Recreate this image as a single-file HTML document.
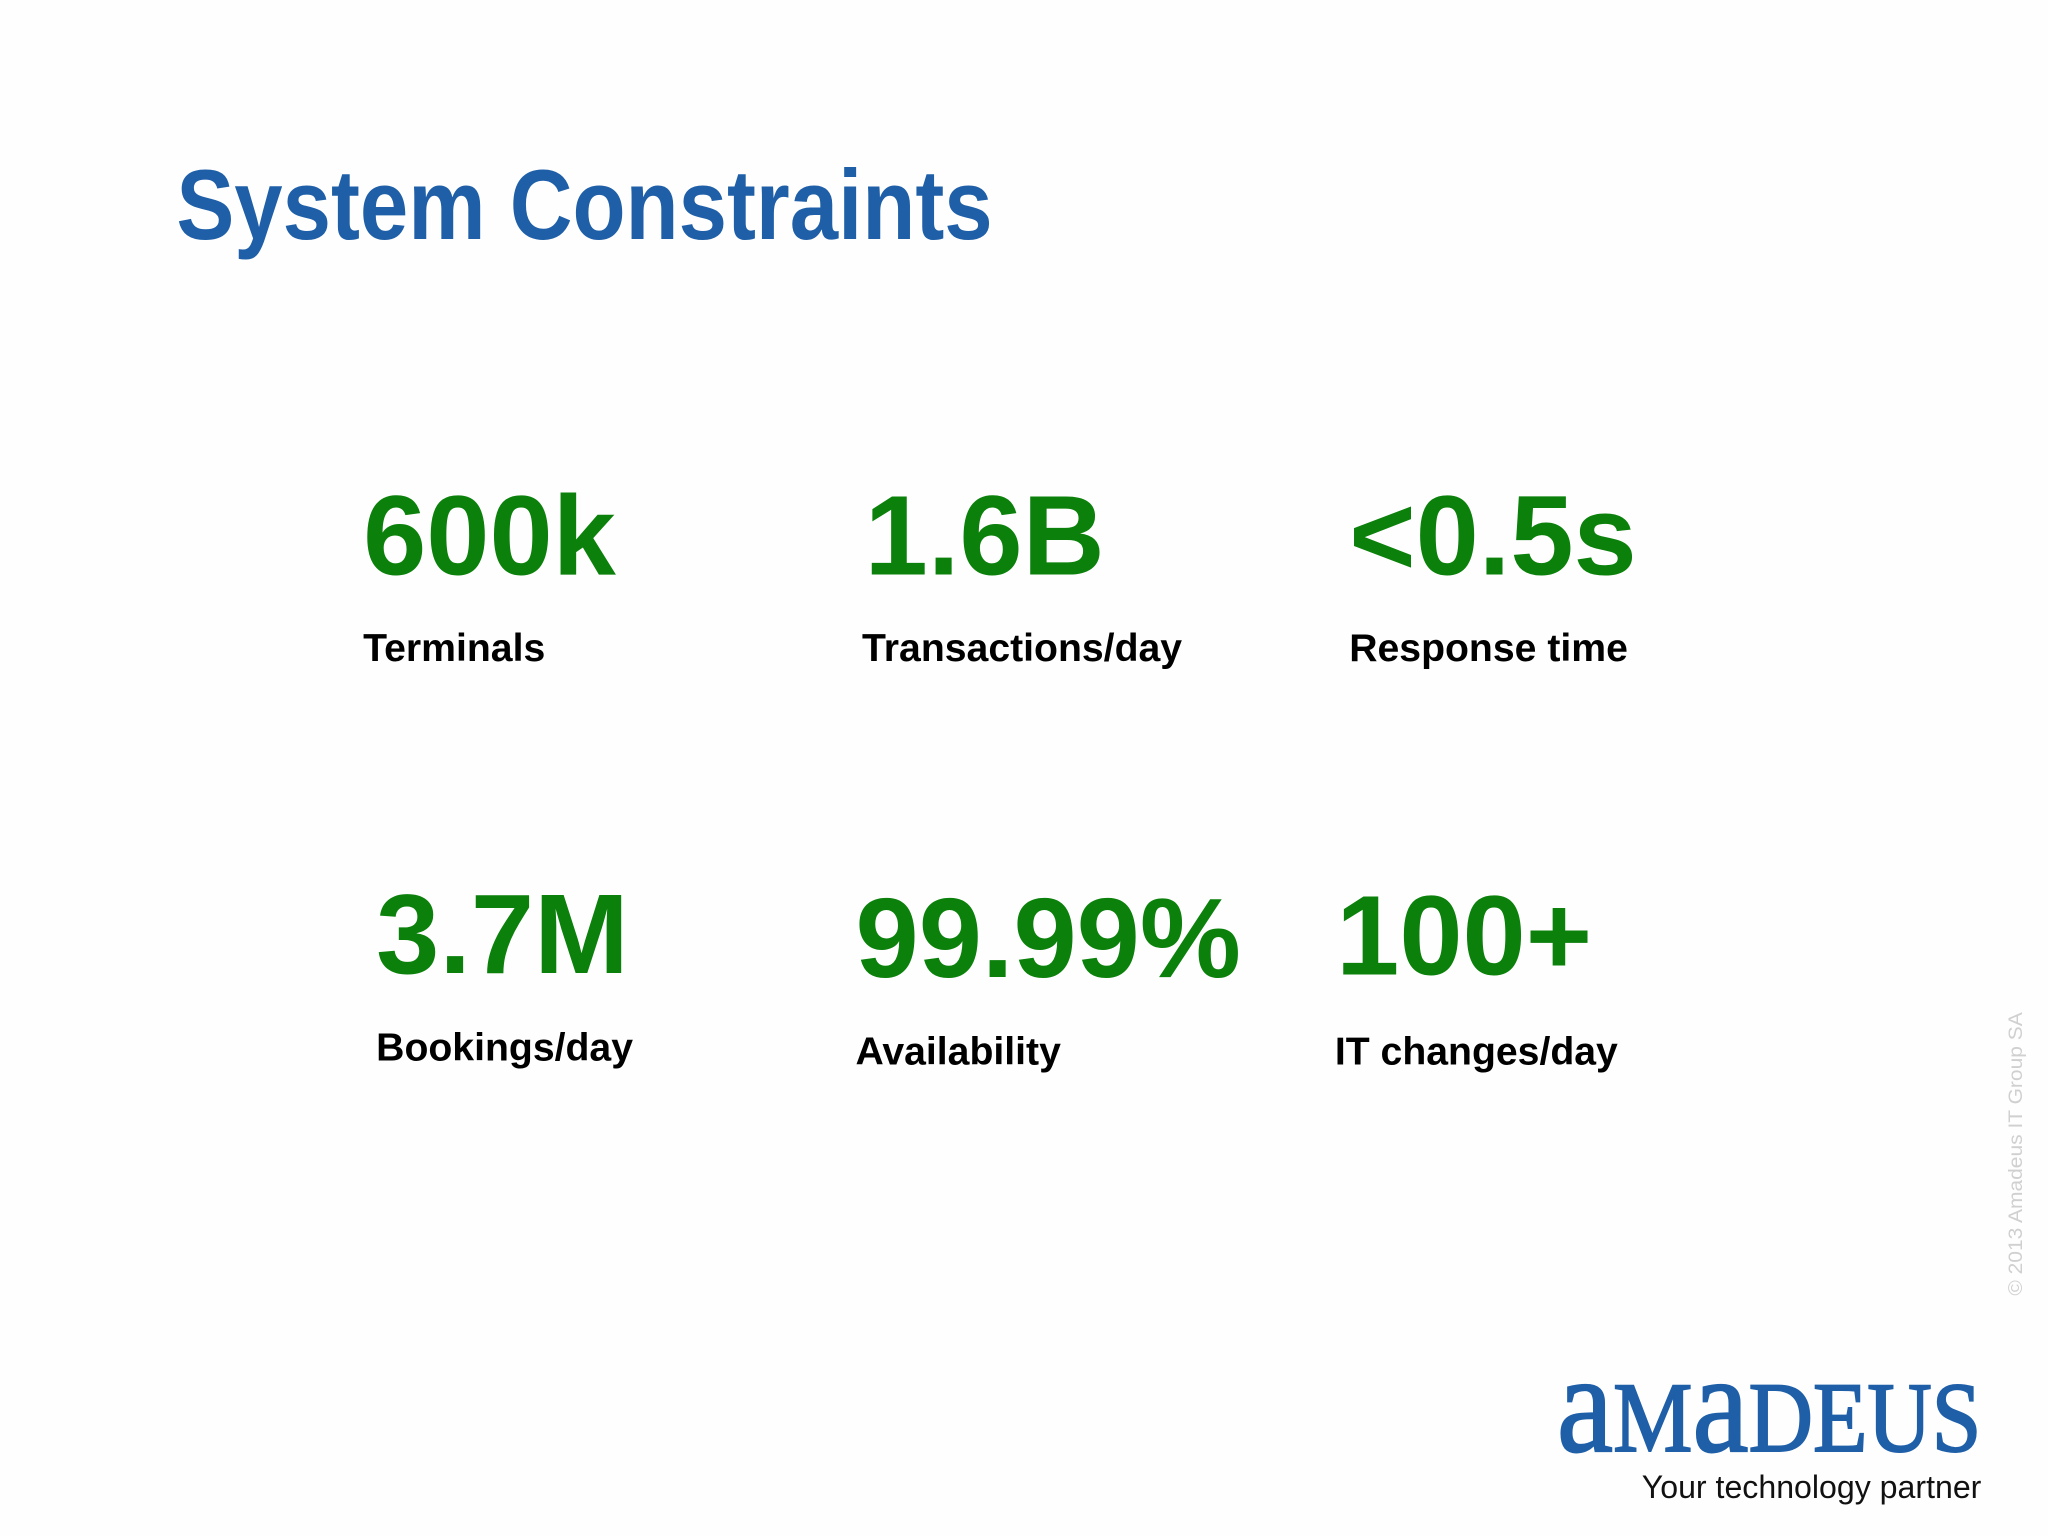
<!DOCTYPE html>
<html><head><meta charset="utf-8"><style>
html,body{margin:0;padding:0;background:#fff;}
svg{display:block;}
</style></head><body>
<svg width="2048" height="1536" viewBox="0 0 1568 1176" xmlns="http://www.w3.org/2000/svg">
<rect x="0" y="0" width="1568" height="1176" fill="#fefefe"/>
<text x="135" y="183" font-family="Liberation Sans, sans-serif" font-size="76" font-weight="bold" fill="#1f5fa8" textLength="625" lengthAdjust="spacingAndGlyphs">System Constraints</text>
<g font-family="Liberation Sans, sans-serif" font-weight="bold">
<g fill="#0b800b" font-size="87">
<text x="278" y="440">600k</text>
<text x="662" y="440">1.6B</text>
<text x="1033" y="440">&lt;0.5s</text>
<text x="288" y="745">3.7M</text>
<text x="655" y="748">99.99%</text>
<text x="1023" y="746">100+</text>
</g>
<g fill="#000" font-size="30">
<text x="278" y="506">Terminals</text>
<text x="660" y="506">Transactions/day</text>
<text x="1033" y="506">Response time</text>
<text x="288" y="812">Bookings/day</text>
<text x="655" y="815">Availability</text>
<text x="1022" y="815">IT changes/day</text>
</g>
</g>
<text x="1192" y="1111" font-family="Liberation Serif, serif" font-size="76" fill="#1f5fa8" stroke="#1f5fa8" stroke-width="1.5" textLength="325" lengthAdjust="spacingAndGlyphs"><tspan font-size="108">a</tspan>M<tspan font-size="108">a</tspan>DEUS</text>
<text x="1257" y="1147" font-family="Liberation Sans, sans-serif" font-size="25" fill="#111" textLength="260" lengthAdjust="spacingAndGlyphs">Your technology partner</text>
<text transform="translate(1548,992) rotate(-90)" font-family="Liberation Sans, sans-serif" font-size="15" fill="#d0d0d0" textLength="217" lengthAdjust="spacingAndGlyphs">© 2013 Amadeus IT Group SA</text>
</svg>
</body></html>
